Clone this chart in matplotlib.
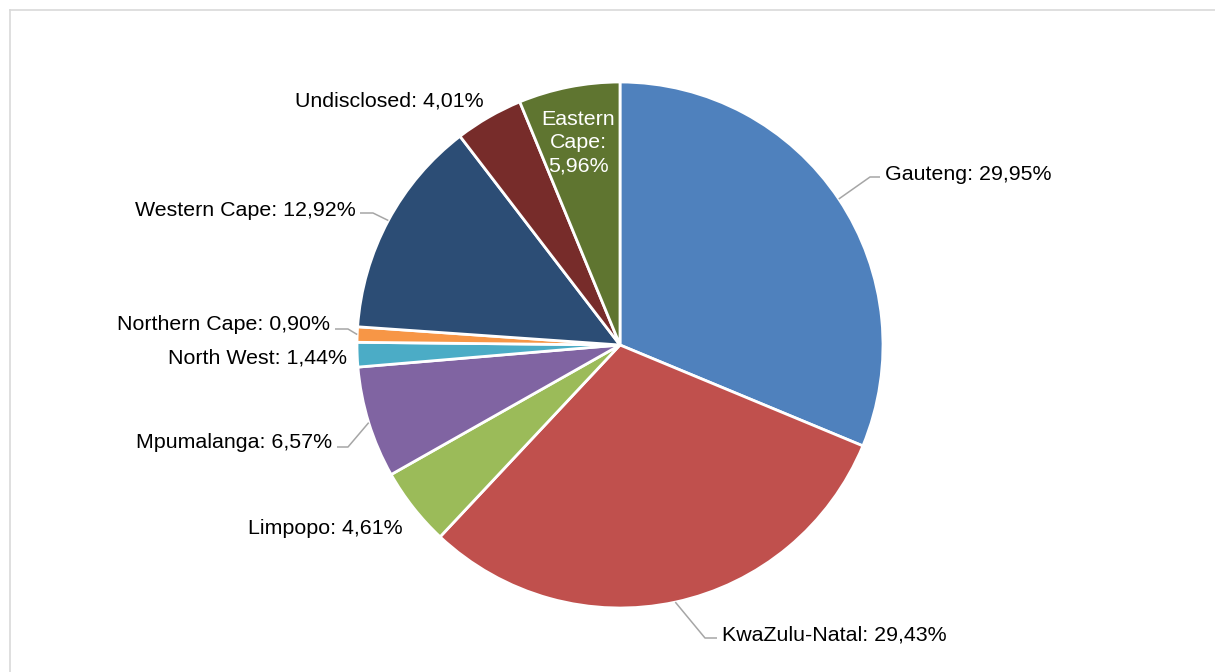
import matplotlib.pyplot as plt
from matplotlib.lines import Line2D
import numpy as np

plt.rcParams['font.family'] = ['Liberation Sans', 'DejaVu Sans']

# ── Data: share of respondents by province (%) ───────────────────────────────
regions = ['Gauteng', 'KwaZulu-Natal', 'Limpopo', 'Mpumalanga', 'North West',
           'Northern Cape', 'Western Cape', 'Undisclosed', 'Eastern Cape']
shares = [29.95, 29.43, 4.61, 6.57, 1.44, 0.90, 12.92, 4.01, 5.96]

colors = ['#4F81BD', '#C0504D', '#9BBB59', '#8064A2', '#4BACC6',
          '#F79646', '#2C4D75', '#772C2A', '#5F7530']

FS = 15.4

# ── Canvas in pixel units (y measured from the top, flipped below) ──────────
W, H = 1215, 672
fig = plt.figure(figsize=(W / 100, H / 100), dpi=100)
ax = fig.add_axes([0, 0, 1, 1])

CX, CY, R = 620, H - 345, 263
wedges, _ = ax.pie(shares, colors=colors, startangle=90, counterclock=False,
                   center=(CX, CY), radius=R,
                   wedgeprops=dict(edgecolor='white', linewidth=2))
ax.set_xlim(0, W)
ax.set_ylim(0, H)
ax.set_aspect('equal')
ax.axis('off')

# label placement: text x, text centre y (from top), alignment,
# leader (elbow x, end x, line y) or None
layout = {
    'Gauteng':       (885, 174, 'left',   (870, 880, 177)),
    'KwaZulu-Natal': (722, 635, 'left',   (705, 717, 638)),
    'Limpopo':       (403, 528, 'right',  None),
    'Mpumalanga':    (332, 443, 'right',  (348, 337, 447)),
    'North West':    (347, 358, 'right',  None),
    'Northern Cape': (330, 325, 'right',  (348, 335, 329)),
    'Western Cape':  (356, 210, 'right',  (373, 360, 213)),
    'Undisclosed':   (484, 101, 'right',  None),
    'Eastern Cape':  (578, 143, 'center', None),
}

for name, val, w in zip(regions, shares, wedges):
    tx, ty, ha, leader = layout[name]
    pct = f'{val:.2f}'.replace('.', ',') + '%'
    if name == 'Eastern Cape':
        ax.text(tx, H - ty, f'Eastern\nCape:\n{pct}', ha='center', va='center',
                color='white', fontsize=FS, linespacing=1.3)
        continue
    ax.text(tx, H - ty, f'{name}: {pct}', ha=ha, va='center',
            color='black', fontsize=FS)
    if leader:
        ex, endx, ly = leader
        mid = np.deg2rad((w.theta1 + w.theta2) / 2)
        sx, sy = CX + R * np.cos(mid), CY + R * np.sin(mid)
        ax.plot([sx, ex, endx], [sy, H - ly, H - ly], color='#A6A6A6',
                linewidth=1.1, solid_capstyle='butt')

# light chart-area border (clipped at right and bottom)
border = '#D9D9D9'
fig.add_artist(Line2D([10 / W, 1], [1 - 9.5 / H, 1 - 9.5 / H],
                      transform=fig.transFigure, color=border, linewidth=1.2))
fig.add_artist(Line2D([10 / W, 10 / W], [0, 1 - 9.5 / H],
                      transform=fig.transFigure, color=border, linewidth=1.2))

fig.savefig('out.png', dpi=100, facecolor='white')
